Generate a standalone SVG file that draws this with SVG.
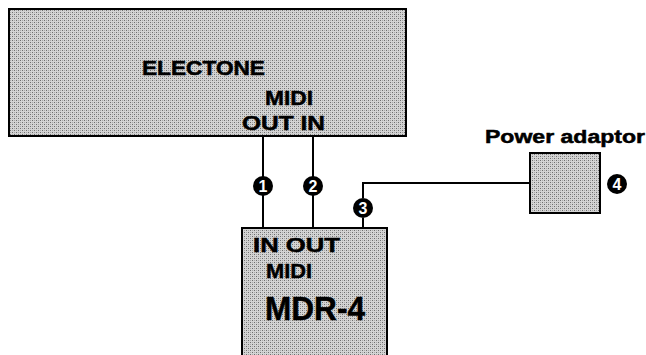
<svg xmlns="http://www.w3.org/2000/svg" width="646" height="355" viewBox="0 0 646 355">
<defs>
<pattern id="stip" width="4" height="4" patternUnits="userSpaceOnUse">
<rect width="4" height="4" fill="#d4d4d4"/>
<rect x="0" y="0" width="1" height="1" fill="#6e6e6e"/>
<rect x="2" y="2" width="1" height="1" fill="#6e6e6e"/>
<rect x="2" y="0" width="1" height="1" fill="#a8a8a8"/>
<rect x="0" y="2" width="1" height="1" fill="#a8a8a8"/>
</pattern>
</defs>
<style>
.box{fill:url(#stip);stroke:#000;stroke-width:2}
.wire{fill:none;stroke:#000;stroke-width:2}
.lbl{font-family:"Liberation Sans",Arial,sans-serif;font-weight:bold;fill:#000;stroke:#000;stroke-width:0.5}
.num circle{fill:#000}
.num text{font-family:"Liberation Sans",Arial,sans-serif;font-weight:bold;font-size:16px;fill:#fff;text-anchor:middle}
</style>
<rect width="646" height="355" fill="#fff"/>
<g id="electone">
<rect class="box" x="9" y="9" width="397" height="127"/>
<text class="lbl" x="142" y="75" font-size="20" textLength="123" lengthAdjust="spacingAndGlyphs">ELECTONE</text>
<text class="lbl" x="265" y="105" font-size="20" textLength="48" lengthAdjust="spacingAndGlyphs">MIDI</text>
<text class="lbl" x="242" y="130" font-size="21" textLength="83" lengthAdjust="spacingAndGlyphs">OUT  IN</text>
</g>
<g id="mdr4">
<rect class="box" x="242" y="228" width="145" height="131"/>
<text class="lbl" x="253" y="252" font-size="20" textLength="87" lengthAdjust="spacingAndGlyphs">IN  OUT</text>
<text class="lbl" x="266" y="278" font-size="21" textLength="46" lengthAdjust="spacingAndGlyphs">MIDI</text>
<text class="lbl" x="265" y="320" font-size="34" textLength="100" lengthAdjust="spacingAndGlyphs" stroke-width="1.2">MDR-4</text>
</g>
<g id="power">
<rect class="box" x="530" y="153" width="70" height="60"/>
<text class="lbl" x="485" y="143" font-size="18" textLength="160" lengthAdjust="spacingAndGlyphs">Power adaptor</text>
</g>
<g id="connectors">
<path class="wire" d="M263 136V177M263 195V228"/>
<path class="wire" d="M313 136V177M313 195V228"/>
<path class="wire" d="M530 183H363V198M363 218V228"/>
</g>
<g id="labels">
<g class="num"><circle cx="263" cy="186" r="10"/><text x="263" y="191.5">1</text></g>
<g class="num"><circle cx="313" cy="186" r="10"/><text x="313" y="191.5">2</text></g>
<g class="num"><circle cx="363" cy="208" r="10"/><text x="363" y="213.5">3</text></g>
<g class="num"><circle cx="617" cy="184" r="10"/><text x="617" y="189.5">4</text></g>
</g>
</svg>
